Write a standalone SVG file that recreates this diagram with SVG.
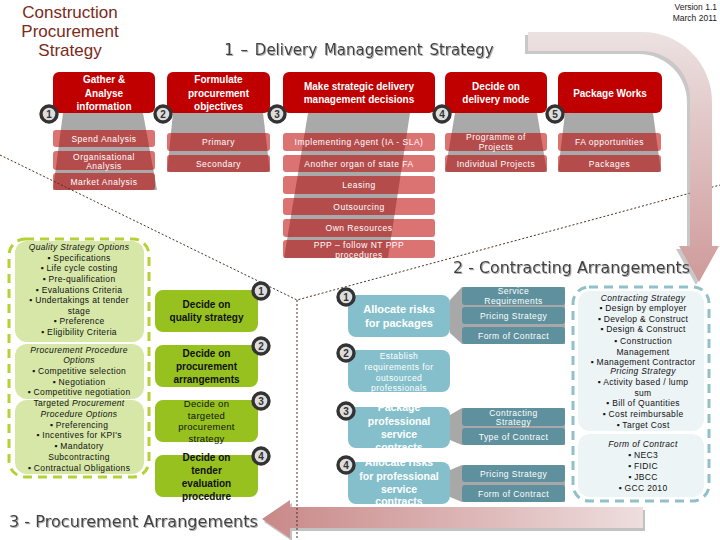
<svg xmlns="http://www.w3.org/2000/svg" width="720" height="540" viewBox="0 0 720 540">
<defs>
<linearGradient id="gTop" gradientUnits="userSpaceOnUse" x1="0" y1="30" x2="0" y2="285">
<stop offset="0" stop-color="#ece2e2"/><stop offset="1" stop-color="#cf9999"/>
</linearGradient>
<linearGradient id="gBot" gradientUnits="userSpaceOnUse" x1="262" y1="0" x2="645" y2="0">
<stop offset="0" stop-color="#c98888"/><stop offset="1" stop-color="#eedede"/>
</linearGradient>
<filter id="sh" x="-5%" y="-20%" width="110%" height="150%">
<feDropShadow dx="1" dy="1" stdDeviation="0.6" flood-color="#b0b0b0"/>
</filter>
<style>
.f{font-family:"Liberation Sans",Arial,sans-serif}
.head{font-family:"DejaVu Sans","Liberation Sans",sans-serif;font-size:15px;fill:#404040}
.rb{fill:#c00000}
.rt{font:bold 10px "Liberation Sans",Arial,sans-serif;fill:#fff;text-anchor:middle}
.tz{fill:#a9a9a9}
.ri{fill:#c00000;fill-opacity:.55}
.it{font:8.5px "Liberation Sans",Arial,sans-serif;fill:#fff;text-anchor:middle;letter-spacing:.5px}
.nc{fill:#dddddd;stroke:#333;stroke-width:3.4}
.nt{font:bold 10px "Liberation Sans",Arial,sans-serif;fill:#333;text-anchor:middle}
.gb{fill:#96c11f}
.gt{font:bold 10px "Liberation Sans",Arial,sans-serif;fill:#111;text-anchor:middle}
.gtn{font:9.5px "Liberation Sans",Arial,sans-serif;fill:#111;text-anchor:middle;letter-spacing:.3px}
.tb{fill:#85bfcb}
.tt{font:bold 11px "Liberation Sans",Arial,sans-serif;fill:#fff;text-anchor:middle}
.tt2{font:bold 10.5px "Liberation Sans",Arial,sans-serif;fill:#fff;text-anchor:middle}
.ttn{font:8.5px "Liberation Sans",Arial,sans-serif;fill:#fff;text-anchor:middle;letter-spacing:.45px}
.sg{fill:#a8a8a8}
.si{fill:#3f8799;fill-opacity:.7}
.lp{fill:#d6e7a7}
.bp{fill:#edf4f6}
.pt{font:8.5px "Liberation Sans",Arial,sans-serif;fill:#111;text-anchor:middle;letter-spacing:.35px}
.ital{font-style:italic}
.dot{fill:none;stroke:#4a3020;stroke-width:1;stroke-dasharray:2 2}
</style>
</defs>
<rect width="720" height="540" fill="#fff"/>

<!-- title -->
<g id="title" class="f" font-size="17" fill="#7b2a1a" text-anchor="middle">
<text x="70" y="18">Construction</text>
<text x="70" y="37">Procurement</text>
<text x="70" y="56">Strategy</text>
</g>
<g id="version" class="f" font-size="8.5" fill="#222" text-anchor="end">
<text x="717" y="10">Version 1.1</text>
<text x="717" y="21">March 2011</text>
</g>
<text id="h1" class="head" x="359" y="55" text-anchor="middle" filter="url(#sh)" word-spacing="2">1 – Delivery Management Strategy</text>

<!-- bottom arrow -->
<g id="arrow-bottom">
<path d="M645,510 V531 H292 V541 L264,522 L292,503 V510 Z" fill="#9a9a9a" fill-opacity=".6"/>
<path d="M643,507 V528 H290 V538 L262,519 L290,500 V507 Z" fill="url(#gBot)"/>
</g>

<!-- gray trapezoids -->
<g id="trapezoids">
<polygon class="tz" points="63,113 143,113 157,190 53,190"/>
<polygon class="tz" points="173,113 263,113 270,172 167,172"/>
<polygon class="tz" points="308,113 410,113 388,258 284,258"/>
<polygon class="tz" points="455,113 537,113 547,172 445,172"/>
<polygon class="tz" points="565,113 653,113 661,172 558,172"/>
</g>

<!-- column items -->
<g id="col1">
<rect class="ri" x="53" y="130" width="102" height="17" rx="3"/>
<text class="it" x="104" y="141.5">Spend Analysis</text>
<rect class="ri" x="53" y="151" width="102" height="19" rx="3"/>
<text class="it" x="104" y="159.5">Organisational</text>
<text class="it" x="104" y="168.5">Analysis</text>
<rect class="ri" x="53" y="173" width="102" height="17" rx="3"/>
<text class="it" x="104" y="184.5">Market Analysis</text>
</g>
<g id="col2">
<rect class="ri" x="167" y="133" width="103" height="18" rx="3"/>
<text class="it" x="218.5" y="145">Primary</text>
<rect class="ri" x="167" y="155" width="103" height="17" rx="3"/>
<text class="it" x="218.5" y="166.5">Secondary</text>
</g>
<g id="col3">
<rect class="ri" x="283" y="133" width="152" height="18" rx="3"/>
<text class="it" x="359" y="145">Implementing Agent (IA - SLA)</text>
<rect class="ri" x="283" y="155" width="152" height="17" rx="3"/>
<text class="it" x="359" y="166.5">Another organ of state FA</text>
<rect class="ri" x="283" y="176" width="152" height="18" rx="3"/>
<text class="it" x="359" y="188">Leasing</text>
<rect class="ri" x="283" y="198" width="152" height="17" rx="3"/>
<text class="it" x="359" y="209.5">Outsourcing</text>
<rect class="ri" x="283" y="219" width="152" height="18" rx="3"/>
<text class="it" x="359" y="231">Own Resources</text>
<rect class="ri" x="283" y="240" width="152" height="18" rx="3"/>
<text class="it" x="359" y="247.5">PPP – follow NT PPP</text>
<text class="it" x="359" y="257.5">procedures</text>
</g>
<g id="col4">
<rect class="ri" x="445" y="133" width="102" height="18" rx="3"/>
<text class="it" x="496" y="140">Programme of</text>
<text class="it" x="496" y="149.5">Projects</text>
<rect class="ri" x="445" y="155" width="102" height="17" rx="3"/>
<text class="it" x="496" y="166.5">Individual Projects</text>
</g>
<g id="col5">
<rect class="ri" x="558" y="133" width="103" height="18" rx="3"/>
<text class="it" x="609.5" y="145">FA opportunities</text>
<rect class="ri" x="558" y="155" width="103" height="17" rx="3"/>
<text class="it" x="609.5" y="166.5">Packages</text>
</g>

<!-- red top boxes -->
<g id="step1"><rect class="rb" x="53" y="72" width="102" height="41" rx="6"/>
<text class="rt" x="104" y="83">Gather &amp;</text><text class="rt" x="104" y="96.5">Analyse</text><text class="rt" x="104" y="110">information</text></g>
<g id="step2"><rect class="rb" x="167" y="72" width="103" height="41" rx="6"/>
<text class="rt" x="218.5" y="83">Formulate</text><text class="rt" x="218.5" y="96.5">procurement</text><text class="rt" x="218.5" y="110">objectives</text></g>
<g id="step3"><rect class="rb" x="283" y="72" width="152" height="41" rx="6"/>
<text class="rt" x="359" y="90">Make strategic delivery</text><text class="rt" x="359" y="103">management decisions</text></g>
<g id="step4"><rect class="rb" x="445" y="72" width="102" height="41" rx="6"/>
<text class="rt" x="496" y="90">Decide on</text><text class="rt" x="496" y="103">delivery mode</text></g>
<g id="step5"><rect class="rb" x="558" y="72" width="104" height="41" rx="6"/>
<text class="rt" x="610" y="96.5">Package Works</text></g>

<!-- top numbers -->
<g id="num-top">
<circle class="nc" cx="49" cy="114" r="8"/><text class="nt" x="49" y="117.5">1</text>
<circle class="nc" cx="163" cy="114" r="8"/><text class="nt" x="163" y="117.5">2</text>
<circle class="nc" cx="277" cy="114" r="8"/><text class="nt" x="277" y="117.5">3</text>
<circle class="nc" cx="442" cy="114" r="8"/><text class="nt" x="442" y="117.5">4</text>
<circle class="nc" cx="555" cy="114" r="8"/><text class="nt" x="555" y="117.5">5</text>
</g>

<!-- connectors / divider lines -->
<g id="connectors">
<path class="dot" d="M0,155 L297,300 L720,185"/>
<path class="dot" d="M297,300 V540"/>
</g>

<!-- top curved arrow -->
<g id="arrow-top">
<path d="M525,35 H639 A70,70 0 0 1 709,105 V249 H716 L696,285 L676,249 H687 V102 A48,48 0 0 0 639,54 H525 Z" fill="#9a9a9a" fill-opacity=".55"/>
<path d="M528,32 H642 A70,70 0 0 1 712,102 V246 H719 L699,282 L679,246 H690 V99 A48,48 0 0 0 642,51 H528 Z" fill="url(#gTop)"/>
</g>

<text id="h2" class="head" x="453" y="273" textLength="237" lengthAdjust="spacingAndGlyphs" filter="url(#sh)">2 - Contracting Arrangements</text>
<text id="h3" class="head" x="9" y="527" textLength="249" lengthAdjust="spacingAndGlyphs" filter="url(#sh)">3 - Procurement Arrangements</text>

<!-- left procurement options panel -->
<g id="proc-options">
<rect x="9" y="239" width="140" height="238" rx="16" fill="none" stroke="#b4d236" stroke-width="3" stroke-dasharray="9 6"/>
<rect class="lp" x="15" y="241" width="129" height="101" rx="12"/>
<rect class="lp" x="15" y="344" width="129" height="55" rx="12"/>
<rect class="lp" x="15" y="400" width="129" height="74" rx="12"/>
<text class="pt ital" x="79" y="250">Quality Strategy Options</text>
<text class="pt" x="79" y="260.5">▪ Specifications</text>
<text class="pt" x="79" y="271">▪ Life cycle costing</text>
<text class="pt" x="79" y="282">▪ Pre-qualification</text>
<text class="pt" x="79" y="292.5">▪ Evaluations Criteria</text>
<text class="pt" x="79" y="303">▪ Undertakings at tender</text>
<text class="pt" x="79" y="313.5">stage</text>
<text class="pt" x="79" y="324">▪ Preference</text>
<text class="pt" x="79" y="335">▪ Eligibility Criteria</text>
<text class="pt ital" x="79" y="352.5">Procurement Procedure</text>
<text class="pt ital" x="79" y="363">Options</text>
<text class="pt" x="79" y="373.5">▪ Competitive selection</text>
<text class="pt" x="79" y="384.5">▪ Negotiation</text>
<text class="pt" x="79" y="395">▪ Competitive negotiation</text>
<text class="pt" x="79" y="406"><tspan>Targeted </tspan><tspan class="ital">Procurement</tspan></text>
<text class="pt ital" x="79" y="416.5">Procedure Options</text>
<text class="pt" x="79" y="427.5">▪ Preferencing</text>
<text class="pt" x="79" y="438">▪ Incentives for KPI's</text>
<text class="pt" x="79" y="449">▪ Mandatory</text>
<text class="pt" x="79" y="459.5">Subcontracting</text>
<text class="pt" x="79" y="470.5">▪ Contractual Obligations</text>
</g>

<!-- green decision boxes -->
<g id="p1"><rect class="gb" x="155" y="290" width="103" height="42" rx="8"/>
<text class="gt" x="206.5" y="308">Decide on</text><text class="gt" x="206.5" y="321">quality strategy</text></g>
<g id="p2"><rect class="gb" x="155" y="345" width="103" height="42" rx="8"/>
<text class="gt" x="206.5" y="357">Decide on</text><text class="gt" x="206.5" y="370">procurement</text><text class="gt" x="206.5" y="383">arrangements</text></g>
<g id="p3"><rect class="gb" x="155" y="400" width="103" height="42" rx="8"/>
<text class="gtn" x="206.5" y="407">Decide on</text><text class="gtn" x="206.5" y="418.5">targeted</text><text class="gtn" x="206.5" y="430">procurement</text><text class="gtn" x="206.5" y="441.5">strategy</text></g>
<g id="p4"><rect class="gb" x="155" y="455" width="103" height="42" rx="8"/>
<text class="gt" x="206.5" y="461">Decide on</text><text class="gt" x="206.5" y="474">tender</text><text class="gt" x="206.5" y="487">evaluation</text><text class="gt" x="206.5" y="500">procedure</text></g>
<g id="num-green">
<circle class="nc" cx="261" cy="291" r="8"/><text class="nt" x="261" y="294.5">1</text>
<circle class="nc" cx="261" cy="346" r="8"/><text class="nt" x="261" y="349.5">2</text>
<circle class="nc" cx="261" cy="401" r="8"/><text class="nt" x="261" y="404.5">3</text>
<circle class="nc" cx="261" cy="456" r="8"/><text class="nt" x="261" y="459.5">4</text>
</g>

<!-- teal contracting boxes -->
<g id="c1">
<polygon class="sg" points="450,300 462,287 565,287 565,344 462,344 450,333"/>
<rect class="tb" x="348" y="295" width="102" height="42" rx="8"/>
<text class="tt" x="399" y="313">Allocate risks</text><text class="tt" x="399" y="327">for packages</text>
<rect class="si" x="462" y="287" width="103" height="18" rx="3"/>
<text class="ttn" x="513.5" y="294">Service</text><text class="ttn" x="513.5" y="303.5">Requirements</text>
<rect class="si" x="462" y="307" width="103" height="17" rx="3"/>
<text class="ttn" x="513.5" y="318.5">Pricing Strategy</text>
<rect class="si" x="462" y="327" width="103" height="17" rx="3"/>
<text class="ttn" x="513.5" y="338.5">Form of Contract</text>
</g>
<g id="c2">
<rect class="tb" x="348" y="350" width="102" height="42" rx="8"/>
<text class="ttn" x="399" y="358.5">Establish</text><text class="ttn" x="399" y="369.5">requirements for</text><text class="ttn" x="399" y="380.5">outsourced</text><text class="ttn" x="399" y="391">professionals</text>
</g>
<g id="c3">
<polygon class="sg" points="450,415 462,408 565,408 565,445 462,445 450,440"/>
<rect class="tb" x="348" y="407" width="102" height="41" rx="8"/>
<text class="tt2" x="399" y="411">Package</text><text class="tt2" x="399" y="424.5">professional</text><text class="tt2" x="399" y="437.5">service</text><text class="tt2" x="399" y="451">contracts</text>
<rect class="si" x="462" y="408" width="103" height="18" rx="3"/>
<text class="ttn" x="513.5" y="415.5">Contracting</text><text class="ttn" x="513.5" y="425">Strategy</text>
<rect class="si" x="462" y="428" width="103" height="17" rx="3"/>
<text class="ttn" x="513.5" y="439.5">Type of Contract</text>
</g>
<g id="c4">
<polygon class="sg" points="450,470 462,465 565,465 565,502 462,502 450,497"/>
<rect class="tb" x="348" y="462" width="102" height="42" rx="8"/>
<text class="tt2" x="399" y="466">Allocate risks</text><text class="tt2" x="399" y="480">for professional</text><text class="tt2" x="399" y="492.5">service</text><text class="tt2" x="399" y="505">contracts</text>
<rect class="si" x="462" y="465" width="103" height="17" rx="3"/>
<text class="ttn" x="513.5" y="476.5">Pricing Strategy</text>
<rect class="si" x="462" y="485" width="103" height="17" rx="3"/>
<text class="ttn" x="513.5" y="496.5">Form of Contract</text>
</g>
<g id="num-teal">
<circle class="nc" cx="346" cy="297" r="8"/><text class="nt" x="346" y="300.5">1</text>
<circle class="nc" cx="346" cy="353" r="8"/><text class="nt" x="346" y="356.5">2</text>
<circle class="nc" cx="346" cy="411" r="8"/><text class="nt" x="346" y="414.5">3</text>
<circle class="nc" cx="346" cy="465" r="8"/><text class="nt" x="346" y="468.5">4</text>
</g>

<!-- right contracting options panel -->
<g id="contract-options">
<rect x="573" y="287" width="136" height="214" rx="16" fill="none" stroke="#90c1c9" stroke-width="3" stroke-dasharray="9 6"/>
<rect class="bp" x="578" y="291" width="126" height="140" rx="12"/>
<rect class="bp" x="578" y="434" width="126" height="63" rx="12"/>
<text class="pt ital" x="643" y="300.5">Contracting Strategy</text>
<text class="pt" x="643" y="311">▪ Design by employer</text>
<text class="pt" x="643" y="321.5">▪ Develop &amp; Construct</text>
<text class="pt" x="643" y="332">▪ Design &amp; Construct</text>
<text class="pt" x="643" y="343.5">▪ Construction</text>
<text class="pt" x="643" y="354.5">Management</text>
<text class="pt" x="643" y="365">▪ Management Contractor</text>
<text class="pt ital" x="643" y="374">Pricing Strategy</text>
<text class="pt" x="643" y="385">▪ Activity based / lump</text>
<text class="pt" x="643" y="395.5">sum</text>
<text class="pt" x="643" y="406">▪ Bill of Quantities</text>
<text class="pt" x="643" y="417">▪ Cost reimbursable</text>
<text class="pt" x="643" y="427.5">▪ Target Cost</text>
<text class="pt ital" x="643" y="446.5">Form of Contract</text>
<text class="pt" x="643" y="457.5">▪ NEC3</text>
<text class="pt" x="643" y="468.5">▪ FIDIC</text>
<text class="pt" x="643" y="479.5">▪ JBCC</text>
<text class="pt" x="643" y="491">▪ GCC 2010</text>
</g>
</svg>
